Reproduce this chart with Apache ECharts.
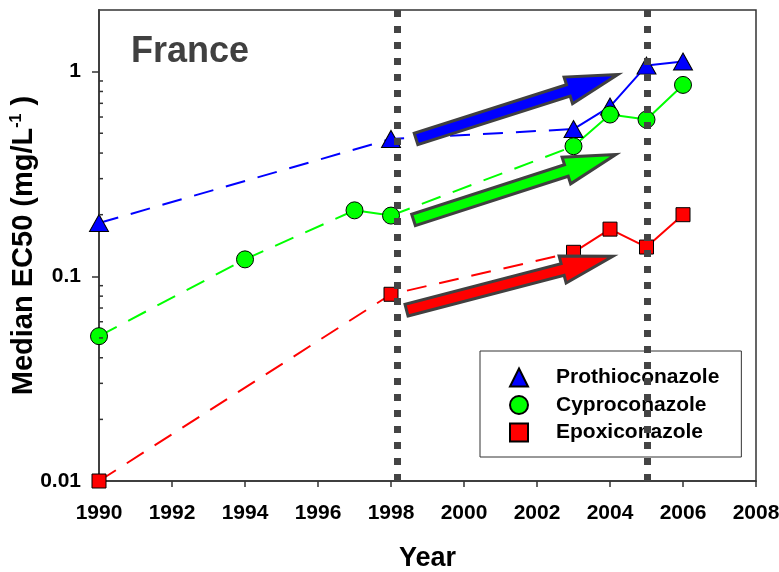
<!DOCTYPE html>
<html><head><meta charset="utf-8">
<script src="https://cdn.jsdelivr.net/npm/echarts@6/dist/echarts.min.js"></script>
<style>html,body{margin:0;padding:0;background:#fff}#c{width:779px;height:572px}</style>
</head><body><div id="c"></div>
<script>
// ---- data ----
const seriesNames = ['Prothioconazole', 'Cyproconazole', 'Epoxiconazole'];
const prothioYears = [1990, 1998, 2003, 2004, 2005, 2006];
const prothioValues = [0.182, 0.469, 0.524, 0.675, 1.07, 1.12];
const prothioSegments = ['dash', 'dash', 'solid', 'solid', 'solid'];
const cyproYears = [1990, 1994, 1997, 1998, 2003, 2004, 2005, 2006];
const cyproValues = [0.051, 0.121, 0.21, 0.198, 0.432, 0.617, 0.583, 0.861];
const cyproSegments = ['dash', 'dash', 'solid', 'dash', 'solid', 'solid', 'solid'];
const epoxiYears = [1990, 1998, 2003, 2004, 2005, 2006];
const epoxiValues = [0.01, 0.0817, 0.131, 0.17, 0.139, 0.2];
const epoxiSegments = ['dash', 'dash', 'solid', 'solid', 'solid'];
const xMin = 1990, xMax = 2008, xStep = 2;
const yMin = 0.01, yMax = 2;
const yMajorTicks = [0.01, 0.1, 1];
const yMinorTicks = [0.02, 0.03, 0.04, 0.05, 0.06, 0.07, 0.08, 0.09, 0.2, 0.3, 0.4, 0.5, 0.6, 0.7, 0.8, 0.9];
const periodLines = [1998.17, 2005.03];
const arrowTails = [[1998.686, 0.469], [1998.617, 0.1886], [1998.425, 0.0683]];
const arrowTips = [[2004.215, 0.967], [2004.16, 0.3936], [2004.08, 0.1252]];
const titleText = 'France';

// ---- styling ----
const colors = ['#0000ff', '#00ff00', '#ff0000'];
const symbols = ['triangle', 'circle', 'rect'];
const symbolSizes = [[19, 17], 17, 14];
const FONT = '"Liberation Sans", Arial, sans-serif';

const compounds = [
  {years: prothioYears, values: prothioValues, segs: prothioSegments},
  {years: cyproYears, values: cyproValues, segs: cyproSegments},
  {years: epoxiYears, values: epoxiValues, segs: epoxiSegments}
];

const series = [];
compounds.forEach((c, ci) => {
  let runStart = 0;
  for (let i = 1; i <= c.segs.length; i++) {
    if (i === c.segs.length || c.segs[i] !== c.segs[runStart]) {
      const data = [];
      for (let k = runStart; k <= i; k++) data.push([c.years[k], c.values[k]]);
      series.push({
        type: 'line', data: data, showSymbol: false, silent: true, z: 2,
        lineStyle: {color: colors[ci], width: 2, type: c.segs[runStart] === 'dash' ? [20, 13] : 'solid'},
        animation: false
      });
      runStart = i;
    }
  }
});
compounds.forEach((c, ci) => {
  series.push({
    type: 'scatter', name: seriesNames[ci], z: 4,
    data: c.years.map((y, i) => [y, c.values[i]]),
    symbol: symbols[ci], symbolSize: symbolSizes[ci],
    itemStyle: {color: colors[ci], borderColor: '#000', borderWidth: 1, opacity: 1},
    animation: false
  });
});
// minor ticks on the log axis (pointing inward)
series.push({
  type: 'custom', silent: true, z: 5, animation: false, clip: false,
  data: yMinorTicks.map(v => [xMin, v]),
  renderItem: function (params, api) {
    const p = api.coord([api.value(0), api.value(1)]);
    return {type: 'line', shape: {x1: p[0], y1: p[1], x2: p[0] + 4, y2: p[1]},
      style: {stroke: '#333', lineWidth: 1.5}};
  }
});
// vertical dotted period lines
series.push({
  type: 'line', data: [], z: 10, silent: true, animation: false,
  markLine: {
    silent: true, symbol: ['none', 'none'], animation: false,
    label: {show: false},
    lineStyle: {color: '#444', width: 7, type: [7, 9], opacity: 1},
    emphasis: {disabled: true},
    data: periodLines.map(x => ({xAxis: x}))
  }
});

const option = {
  animation: false,
  backgroundColor: '#fff',
  title: {text: titleText, left: 131, top: 34, padding: 0,
    textStyle: {fontSize: 36, fontWeight: 'bold', color: '#404040', fontFamily: FONT}},
  grid: {left: 99, right: 23, top: 10, bottom: 91, show: true, borderColor: '#333', borderWidth: 1.5,
    backgroundColor: 'transparent', containLabel: false, outerBoundsMode: 'none'},
  legend: {
    data: seriesNames, orient: 'vertical', left: 480, top: 351, z: 1,
    padding: [16, 22, 14, 29], itemGap: 6.5, itemWidth: 18, itemHeight: 18,
    borderColor: '#333', borderWidth: 1, selectedMode: false,
    formatter: n => '{g|}' + n,
    textStyle: {fontSize: 21, fontWeight: 'bold', color: '#000', fontFamily: FONT, rich: {g: {width: 23}}}
  },
  xAxis: {
    type: 'value', min: xMin, max: xMax, interval: xStep,
    name: 'Year', nameLocation: 'middle', nameGap: 64, nameMoveOverlap: false,
    nameTextStyle: {fontSize: 27, fontWeight: 'bold', color: '#000', fontFamily: FONT},
    axisLine: {show: true, lineStyle: {color: '#333', width: 1.5}},
    axisTick: {show: true, inside: false, length: 6, lineStyle: {color: '#333', width: 1.5}},
    axisLabel: {fontSize: 21, fontWeight: 'bold', color: '#000', fontFamily: FONT, margin: 22,
      formatter: v => String(v)},
    splitLine: {show: false}
  },
  yAxis: {
    type: 'log', logBase: 10, min: yMin, max: yMax,
    name: '{m|Median EC50 (mg/L}{s|-1}{m| )}', nameLocation: 'middle', nameGap: 61, nameRotate: 90,
    nameMoveOverlap: false,
    nameTextStyle: {color: '#000', fontFamily: FONT, rich: {
      m: {fontSize: 29, fontWeight: 'bold', color: '#000', fontFamily: FONT},
      s: {fontSize: 16, fontWeight: 'bold', color: '#000', fontFamily: FONT, verticalAlign: 'top'}
    }},
    axisLine: {show: true, lineStyle: {color: '#404040', width: 2}},
    axisTick: {show: true, inside: false, length: 7, lineStyle: {color: '#333', width: 1.5}},
    axisLabel: {fontSize: 21, fontWeight: 'bold', color: '#000', fontFamily: FONT, margin: 18,
      showMaxLabel: false,
      formatter: v => {
        const n = +(+v).toPrecision(3);
        return yMajorTicks.indexOf(n) >= 0 ? String(n) : '';
      }},
    splitLine: {show: false}
  },
  series: series
};

const chart = echarts.init(document.getElementById('c'), null, {renderer: 'canvas'});
chart.setOption(option);

function arrowPoints(t, p) {
  const dx = p[0] - t[0], dy = p[1] - t[1];
  const L = Math.hypot(dx, dy);
  const ux = dx / L, uy = dy / L, nx = -uy, ny = ux;
  const headLen = 52, headHalf = 14, shaftHalf = 6;
  const bx = p[0] - ux * headLen, by = p[1] - uy * headLen;
  return [
    [t[0] + nx * shaftHalf, t[1] + ny * shaftHalf],
    [bx + nx * shaftHalf, by + ny * shaftHalf],
    [bx + nx * headHalf, by + ny * headHalf],
    [p[0], p[1]],
    [bx - nx * headHalf, by - ny * headHalf],
    [bx - nx * shaftHalf, by - ny * shaftHalf],
    [t[0] - nx * shaftHalf, t[1] - ny * shaftHalf]
  ];
}
const graphics = arrowTails.map((tail, i) => {
  const t = chart.convertToPixel({xAxisIndex: 0, yAxisIndex: 0}, tail);
  const p = chart.convertToPixel({xAxisIndex: 0, yAxisIndex: 0}, arrowTips[i]);
  return {
    type: 'polygon', z: 8, silent: true,
    shape: {points: arrowPoints(t, p)},
    style: {fill: colors[i], stroke: '#404040', lineWidth: 3, lineJoin: 'miter'}
  };
});
chart.setOption({graphic: graphics});
</script>
</body></html>
